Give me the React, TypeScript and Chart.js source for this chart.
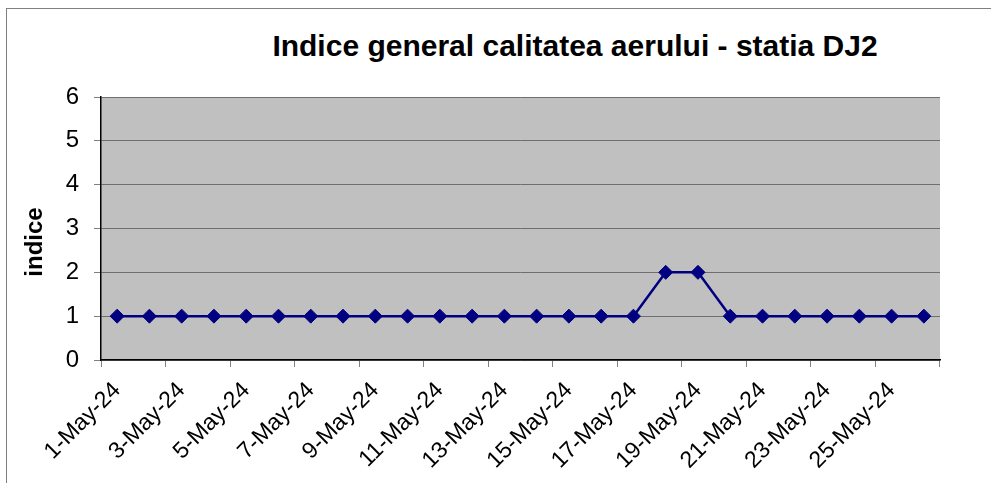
import React, { useEffect, useRef } from 'react';
import { Chart, registerables } from 'chart.js';

Chart.register(...registerables);

const chartTitle = 'Indice general calitatea aerului - statia DJ2';
const yAxisTitle = 'indice';

const categories = [
  '1-May-24', '2-May-24', '3-May-24', '4-May-24', '5-May-24', '6-May-24', '7-May-24',
  '8-May-24', '9-May-24', '10-May-24', '11-May-24', '12-May-24', '13-May-24', '14-May-24',
  '15-May-24', '16-May-24', '17-May-24', '18-May-24', '19-May-24', '20-May-24', '21-May-24',
  '22-May-24', '23-May-24', '24-May-24', '25-May-24', '26-May-24',
];

const indexValues = [
  1, 1, 1, 1, 1, 1, 1, 1, 1, 1, 1, 1, 1, 1, 1, 1, 1, 2, 2, 1, 1, 1, 1, 1, 1, 1,
];

const yMin = 0;
const yMax = 6;
const yStep = 1;

const FONT = 'Arial, "Liberation Sans", sans-serif';

const plotBackground = {
  id: 'plotBackground',
  beforeDraw(chart: any) {
    const { ctx, chartArea } = chart;
    if (!chartArea) return;
    ctx.save();
    ctx.fillStyle = '#C0C0C0';
    ctx.fillRect(chartArea.left, chartArea.top, chartArea.right - chartArea.left, chartArea.bottom - chartArea.top);
    ctx.restore();
  },
};

export default function App() {
  const canvasRef = useRef<HTMLCanvasElement | null>(null);

  useEffect(() => {
    if (!canvasRef.current) return;
    const chart = new Chart(canvasRef.current, {
      type: 'line',
      data: {
        labels: categories,
        datasets: [
          {
            label: 'indice',
            data: indexValues,
            borderColor: '#000080',
            backgroundColor: '#000080',
            borderWidth: 2.5,
            pointStyle: 'rectRot',
            pointRadius: 7,
            pointBackgroundColor: '#000080',
            pointBorderColor: '#000080',
            pointBorderWidth: 1,
            tension: 0,
            fill: false,
          },
        ],
      },
      options: {
        animation: false,
        responsive: true,
        maintainAspectRatio: false,
        layout: { padding: { left: 15, right: 51, top: 97, bottom: 0 } },
        plugins: {
          legend: { display: false },
          tooltip: { enabled: false },
          title: { display: false },
        },
        scales: {
          x: {
            type: 'category',
            offset: true,
            afterFit(scale: any) {
              scale.height = 123;
            },
            grid: {
              display: true,
              offset: true,
              drawOnChartArea: false,
              drawTicks: true,
              tickLength: 7,
              color: (ctx: any) =>
                ctx.index === undefined || ctx.index % 2 === 0 ? '#808080' : 'rgba(0,0,0,0)',
            },
            border: { display: true, color: '#000000', width: 1.5 },
            ticks: {
              autoSkip: false,
              maxRotation: 45,
              minRotation: 45,
              padding: 10,
              color: '#000000',
              font: { family: FONT, size: 23 },
              callback: (_v: any, index: number) => (index % 2 === 0 ? categories[index] : ''),
            },
          },
          y: {
            min: yMin,
            max: yMax,
            afterFit(scale: any) {
              scale.width = 86;
            },
            grid: {
              color: '#6e6e6e',
              lineWidth: 1,
              tickLength: 7,
              tickColor: '#808080',
            },
            border: { display: true, color: '#000000', width: 1.5 },
            ticks: {
              stepSize: yStep,
              padding: 15,
              color: '#000000',
              font: { family: FONT, size: 24 },
            },
            title: { display: false },
          },
        },
      },
      plugins: [plotBackground],
    });
    return () => chart.destroy();
  }, []);

  return (
    <div
      style={{
        position: 'fixed',
        left: 0,
        top: 0,
        width: 991,
        height: 483,
        overflow: 'hidden',
        background: '#ffffff',
      }}
    >
      <div
        style={{
          position: 'absolute',
          left: 6,
          top: 8,
          width: 1500,
          height: 1000,
          border: '1px solid #808080',
        }}
      />
      <div
        style={{
          position: 'absolute',
          left: 0,
          top: 29,
          width: 1150,
          textAlign: 'center',
          fontFamily: FONT,
          fontWeight: 'bold',
          fontSize: 30,
          lineHeight: '34px',
          color: '#000000',
          whiteSpace: 'nowrap',
        }}
      >
        {chartTitle}
      </div>
      <div style={{ position: 'absolute', left: 0, top: 0, width: 991, height: 483 }}>
        <canvas ref={canvasRef} />
      </div>
      <div
        style={{
          position: 'absolute',
          left: 34 - 50,
          top: 242 - 14,
          width: 100,
          height: 28,
          lineHeight: '28px',
          textAlign: 'center',
          fontFamily: FONT,
          fontWeight: 'bold',
          fontSize: 24,
          color: '#000000',
          transform: 'rotate(-90deg)',
          whiteSpace: 'nowrap',
        }}
      >
        {yAxisTitle}
      </div>
    </div>
  );
}
